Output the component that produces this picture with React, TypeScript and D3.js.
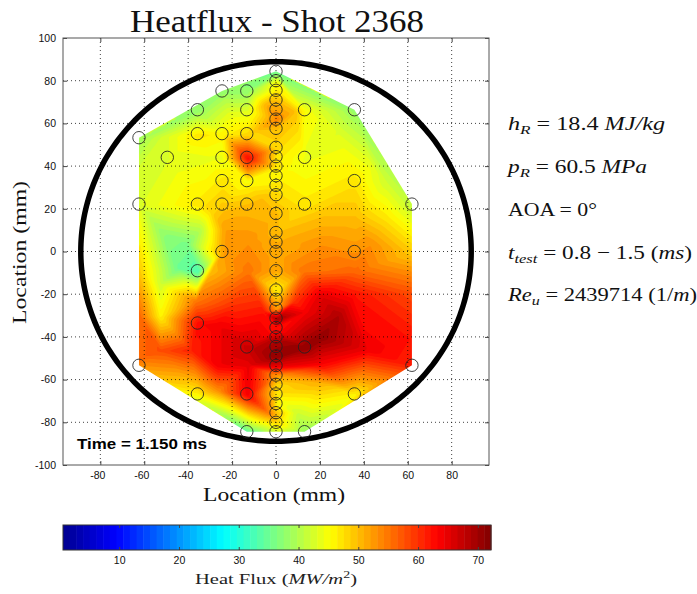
import React, { useEffect, useRef } from 'react';
import * as d3 from 'd3';

// sensor positions in mm with heat flux in MW/m2
const centerY = [84.4, 80, 75.5, 71, 66.6, 62, 57.7, 48.8, 44.4, 40, 35.5, 31, 26.6, 17.8, 8.9, 4.4, 0, -9, -18, -22.4, -26.6, -31.2, -35.6, -40, -44.5, -48.9, -53.4, -57.9, -62.2, -66.7, -71.2, -75.5, -80, -84.4];
const centerFlux = [36, 45, 47, 50, 52, 54, 50, 48, 47, 47, 46, 47, 48, 50, 50, 51, 51, 51, 46, 50, 52, 70, 62, 68, 70, 71, 65, 52, 48, 47, 46, 50, 48, 42];
const offX = [-62.4, -62.4, -49.5, -35.8, -35.8, -35.8, -24.6, -13.3, -13.3, -24.6, -13.3, -24.6, -13.3, -24.6, -13.3, -24.6, -13.3, -24.6, 13, 35.7, 13, 35.7, 13, 61.9, 35.7, -35.8, -35.8, -13.3, -62.4, -35.8, -13.3, -13.3, 13, 61.9, 35.7, 13];
const offY = [53.3, 22.2, 44.1, 66.4, 55.2, 22.2, 75.2, 75.2, 66.4, 55.2, 55.2, 44.1, 44.1, 33.2, 33.2, 22.2, 22.2, 0, 66.4, 66.4, 44.1, 33.2, 22.2, 22.2, 0, -9, -33.5, -44.7, -53.3, -66.7, -66.7, -84.4, -44.7, -53.3, -66.7, -84.4];
const offFlux = [39, 43, 43, 38, 47, 47, 38, 38, 43, 46, 48, 44, 63, 47, 45, 49, 50, 52, 45, 38, 44, 47, 47, 41, 53, 33, 63, 67, 53, 46, 64, 34, 71, 61, 46, 38];

// field colour read between the sensors, no marker drawn for these
const fieldX = [61.9, 61.9, 61.9, 35.7, 35.7, 20, 28, 20, 42, 20, 20, 9, 12, 8, 13, -62.4, -62.4, -62.4, -53, -37, -53, -45, -53, -39, -27, -27, -13, -27, -13, -4, -20, -30, -13, -6, 43, 36, 50, 20, 20, 20, 28, 43, 8, 50, -62.4, -53, -41, -35, -24, -30, -13, -7, -18, -30, -53, -5, -22];
const fieldY = [0, -19.5, -40, -19.5, -9, -20, -30, -40, -46, -53, -61, -75, -9, -23, -28, -9, -30, -50, -30, -23, -15, -7.5, -46, -46, -34, -53, -53, -65, -77, -75, -25, -9, -9, -28, 4, 16, 16, 4, 16, 40, 56, 40, 66, 33, 41, 10, 4, 10, 11, 19, 5, 25, 38, 44, 54, 69, 66];
const fieldFlux = [49, 58, 62, 62, 56, 65, 69, 71, 64, 63, 51, 42, 55, 60, 64, 49, 56, 56, 46, 55, 42, 35, 58, 61, 64, 64, 65, 53, 46, 55, 60, 50, 55, 62, 53, 50, 47, 53, 50, 45, 43, 44, 50, 42, 42, 38, 36, 40, 52, 48, 53, 50, 46, 44, 42, 51, 43];

const axisTicks = [-80, -60, -40, -20, 0, 20, 40, 60, 80];
const yAxisTicks = [-100, -80, -60, -40, -20, 0, 20, 40, 60, 80, 100];
const barTicks = [10, 20, 30, 40, 50, 60, 70];
const fluxRange = [0.6, 72.2];
const ringRadius = 88.9;
const jetColors = ['#00008f', '#0000ff', '#00ffff', '#ffff00', '#ff0000', '#800000'];
const jetStops = [0, 0.125, 0.375, 0.625, 0.875, 1];
const bandCount = 64;

const notes = [
  { y: 130, len: 157, parts: [['h', 'i'], ['R', 's'], [' = 18.4 ', 'n'], ['MJ/kg', 'i']] },
  { y: 173, len: 139, parts: [['p', 'i'], ['R', 's'], [' = 60.5 ', 'n'], ['MPa', 'i']] },
  { y: 216, len: 89, parts: [['AOA = 0°', 'n']] },
  { y: 259, len: 184, parts: [['t', 'i'], ['test', 's'], [' = 0.8 − 1.5 (', 'n'], ['ms', 'i'], [')', 'n']] },
  { y: 301, len: 189, parts: [['Re', 'i'], ['u', 's'], [' = 2439714 (1/', 'n'], ['m', 'i'], [')', 'n']] },
];

const serif = '"Liberation Serif", serif';
const sans = '"Liberation Sans", sans-serif';

const App = () => {
  const svgRef = useRef<SVGSVGElement>(null);

  useEffect(() => {
    const svg = d3.select(svgRef.current);
    svg.selectAll('*').remove();

    const x = d3.scaleLinear().domain([-97, 97]).range([63, 489]);
    const y = d3.scaleLinear().domain([-100, 100]).range([465, 38]);
    const flux = d3
      .scaleLinear<string>()
      .domain(jetStops.map((t) => fluxRange[0] + t * (fluxRange[1] - fluxRange[0])))
      .range(jetColors);
    const bands = d3.range(bandCount).map((i) => fluxRange[0] + (i / bandCount) * (fluxRange[1] - fluxRange[0]));
    const bandColor = (v: number) => flux(v + (fluxRange[1] - fluxRange[0]) / bandCount / 2);

    const markerX = [...centerY.map(() => 0), ...offX];
    const markerY = [...centerY, ...offY];
    const sx = [...markerX, ...fieldX];
    const sy = [...markerY, ...fieldY];
    const sv = [...centerFlux, ...offFlux, ...fieldFlux];
    const delaunay = d3.Delaunay.from(sx.map((d, i) => [d, sy[i]]));

    // grid of the linear interpolation over the triangles
    const step = 2;
    const nx = Math.ceil((489 - 63) / step) + 1;
    const ny = Math.ceil((465 - 38) / step) + 1;
    const grid = new Float64Array(nx * ny).fill(NaN);
    const tri = delaunay.triangles;
    for (let t = 0; t < tri.length; t += 3) {
      const [a, b, c] = [tri[t], tri[t + 1], tri[t + 2]];
      const den = (sy[b] - sy[c]) * (sx[a] - sx[c]) + (sx[c] - sx[b]) * (sy[a] - sy[c]);
      if (Math.abs(den) < 1e-9) continue;
      const i0 = Math.max(0, Math.floor((x(Math.min(sx[a], sx[b], sx[c])) - 63) / step));
      const i1 = Math.min(nx - 1, Math.ceil((x(Math.max(sx[a], sx[b], sx[c])) - 63) / step));
      const j0 = Math.max(0, Math.floor((y(Math.max(sy[a], sy[b], sy[c])) - 38) / step));
      const j1 = Math.min(ny - 1, Math.ceil((y(Math.min(sy[a], sy[b], sy[c])) - 38) / step));
      for (let j = j0; j <= j1; j++) {
        for (let i = i0; i <= i1; i++) {
          const mx = x.invert(63 + i * step);
          const my = y.invert(38 + j * step);
          const l1 = ((sy[b] - sy[c]) * (mx - sx[c]) + (sx[c] - sx[b]) * (my - sy[c])) / den;
          const l2 = ((sy[c] - sy[a]) * (mx - sx[c]) + (sx[a] - sx[c]) * (my - sy[c])) / den;
          const l3 = 1 - l1 - l2;
          if (l1 >= -1e-6 && l2 >= -1e-6 && l3 >= -1e-6) {
            grid[j * nx + i] = l1 * sv[a] + l2 * sv[b] + l3 * sv[c];
          }
        }
      }
    }
    // outside the hull take the nearest sample, the mask hides it anyway
    for (let j = 0; j < ny; j++) {
      for (let i = 0; i < nx; i++) {
        if (Number.isNaN(grid[j * nx + i])) {
          grid[j * nx + i] = sv[delaunay.find(x.invert(63 + i * step), y.invert(38 + j * step))];
        }
      }
    }

    const hull = Array.from(delaunay.hullPolygon());
    svg
      .append('mask')
      .attr('id', 'hull')
      .attr('maskUnits', 'userSpaceOnUse')
      .attr('x', 0)
      .attr('y', 0)
      .attr('width', 697)
      .attr('height', 594)
      .append('path')
      .attr('fill', '#fff')
      .attr('d', d3.line()(hull.map((p) => [x(p[0]), y(p[1])])) + 'Z');

    const contours = d3.contours().size([nx, ny]).thresholds(bands)(Array.from(grid));
    const path = d3.geoPath(d3.geoIdentity().scale(step).translate([63, 38]));
    svg
      .append('g')
      .attr('mask', 'url(#hull)')
      .selectAll('path')
      .data(contours)
      .enter()
      .append('path')
      .attr('d', path as any)
      .attr('fill', (d) => bandColor(d.value));

    // grid lines sit over the field
    const grids = svg
      .append('g')
      .attr('stroke', '#000')
      .attr('stroke-opacity', 0.75)
      .attr('stroke-width', 1)
      .attr('stroke-dasharray', '1,3');
    axisTicks.forEach((t) => {
      grids.append('line').attr('x1', x(t)).attr('x2', x(t)).attr('y1', 38).attr('y2', 465);
    });
    yAxisTicks.slice(1, -1).forEach((t) => {
      grids.append('line').attr('y1', y(t)).attr('y2', y(t)).attr('x1', 63).attr('x2', 489);
    });

    // model outline
    const ring = d3
      .line<number>()
      .x((a) => x(ringRadius * Math.cos(a)))
      .y((a) => y(ringRadius * Math.sin(a)))
      .curve(d3.curveLinearClosed);
    svg
      .append('path')
      .attr('d', ring(d3.range(0, Math.PI * 2, 0.02)))
      .attr('fill', 'none')
      .attr('stroke', '#000')
      .attr('stroke-width', 5.5);

    // sensors
    svg
      .append('g')
      .selectAll('circle')
      .data(markerX)
      .enter()
      .append('circle')
      .attr('cx', (d) => x(d))
      .attr('cy', (d, i) => y(markerY[i]))
      .attr('r', 6.2)
      .attr('fill', 'none')
      .attr('stroke', '#222')
      .attr('stroke-opacity', 0.85)
      .attr('stroke-width', 1);

    // axes
    const styleAxis = (g: any) => {
      g.select('.domain').remove();
      g.selectAll('line').attr('stroke', '#444');
      g.selectAll('text').attr('font-family', sans).attr('font-size', 10.5).attr('fill', '#111');
    };
    const tickText = (d: any) => String(d);
    svg.append('g').attr('transform', 'translate(0,465)')
      .call(d3.axisBottom(x).tickValues(axisTicks).tickSize(-4).tickPadding(7).tickFormat(tickText))
      .call(styleAxis)
      .selectAll('text')
      .attr('dx', (d: any) => (d < 0 ? -3 : 0));
    svg.append('g').attr('transform', 'translate(63,0)')
      .call(d3.axisLeft(y).tickValues(yAxisTicks).tickSize(-4).tickPadding(7).tickFormat(tickText))
      .call(styleAxis);
    svg.append('g').attr('transform', 'translate(0,38)')
      .call(d3.axisTop(x).tickValues(axisTicks).tickSize(-4).tickFormat(() => ''))
      .call(styleAxis);
    svg.append('g').attr('transform', 'translate(489,0)')
      .call(d3.axisRight(y).tickValues(yAxisTicks).tickSize(-4).tickFormat(() => ''))
      .call(styleAxis);
    svg.append('rect').attr('x', 63).attr('y', 38).attr('width', 426).attr('height', 427)
      .attr('fill', 'none').attr('stroke', '#555').attr('stroke-width', 1);

    const label = (tx: number, ty: number, text: string, size: number, len: number) =>
      svg.append('text').attr('x', tx).attr('y', ty).attr('font-family', serif).attr('font-size', size)
        .attr('fill', '#111').attr('textLength', len).attr('lengthAdjust', 'spacingAndGlyphs').text(text);

    label(130, 32, 'Heatflux - Shot 2368', 31, 294);
    label(203, 501, 'Location (mm)', 19, 142);
    label(0, 0, 'Location (mm)', 19, 143).attr('transform', 'translate(26,324) rotate(-90)');

    svg.append('text').attr('x', 77).attr('y', 449).attr('font-family', sans).attr('font-weight', 'bold')
      .attr('font-size', 15).attr('fill', '#000').attr('textLength', 130)
      .attr('lengthAdjust', 'spacingAndGlyphs').text('Time = 1.150 ms');

    // side notes, italic runs and subscripts as tspans
    notes.forEach((n) => {
      const t = svg.append('text').attr('x', 508).attr('y', n.y).attr('font-family', serif)
        .attr('font-size', 19).attr('fill', '#111').attr('textLength', n.len)
        .attr('lengthAdjust', 'spacingAndGlyphs');
      let shift = 0;
      n.parts.forEach(([s, kind]) => {
        const dy = kind === 's' ? 4 : -shift;
        shift = kind === 's' ? 4 : 0;
        t.append('tspan').attr('dy', dy)
          .attr('font-style', kind === 'n' ? 'normal' : 'italic')
          .attr('font-size', kind === 's' ? 13.5 : 19)
          .style('white-space', 'pre')
          .text(s);
      });
    });

    // colorbar
    const bar = d3.scaleLinear().domain(fluxRange).range([63, 491]);
    const bandW = (fluxRange[1] - fluxRange[0]) / bandCount;
    svg.append('g').selectAll('rect').data(bands).enter().append('rect')
      .attr('x', (d) => bar(d))
      .attr('y', 525)
      .attr('width', (d) => bar(d + bandW) - bar(d) + 0.5)
      .attr('height', 25)
      .attr('fill', (d) => bandColor(d));
    svg.append('g').attr('transform', 'translate(0,550)')
      .call(d3.axisBottom(bar).tickValues(barTicks).tickSize(-3).tickPadding(7).tickFormat(tickText))
      .call(styleAxis);
    svg.append('g').attr('transform', 'translate(0,525)')
      .call(d3.axisTop(bar).tickValues(barTicks).tickSize(-3).tickFormat(() => ''))
      .call(styleAxis);
    svg.append('rect').attr('x', 63).attr('y', 525).attr('width', 428).attr('height', 25)
      .attr('fill', 'none').attr('stroke', '#333').attr('stroke-width', 1);

    const barLabel = svg.append('text').attr('x', 195).attr('y', 584).attr('font-family', serif)
      .attr('font-size', 15.5).attr('fill', '#222').attr('textLength', 162)
      .attr('lengthAdjust', 'spacingAndGlyphs');
    barLabel.append('tspan').style('white-space', 'pre').text('Heat Flux (');
    barLabel.append('tspan').attr('font-style', 'italic').text('MW/m');
    barLabel.append('tspan').attr('font-size', 10.5).attr('dy', -6).text('2');
    barLabel.append('tspan').attr('dy', 6).text(')');
  }, []);

  return (
    <svg
      ref={svgRef}
      width={697}
      height={594}
      style={{ position: 'absolute', left: 0, top: 0, background: '#fff' }}
    />
  );
};

export default App;
